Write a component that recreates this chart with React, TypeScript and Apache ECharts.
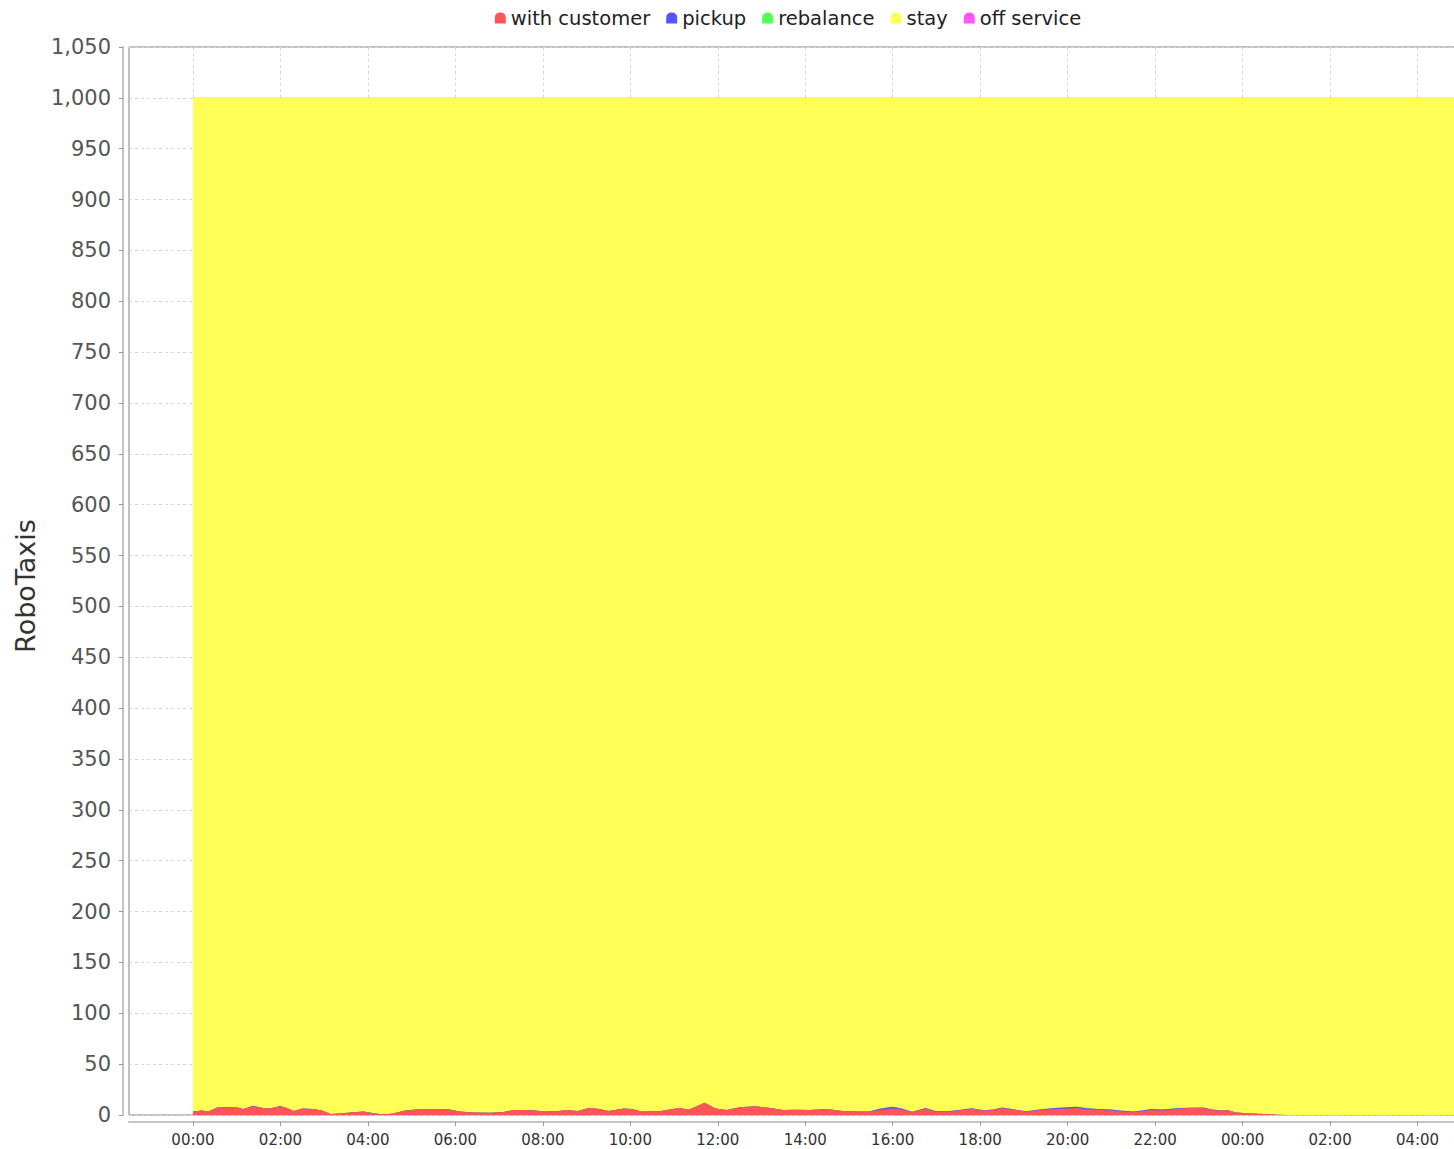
import React, { useEffect, useRef } from "react";
import * as echarts from "echarts";

// time of day in hours since simulation start (00:00)
const hours = [
  0.0, 0.2, 0.35, 0.55, 0.8, 1.0, 1.15, 1.37, 1.6, 1.75, 2.0, 2.15, 2.3, 2.5, 2.75, 2.95,
  3.15, 3.35, 3.6, 3.9, 4.1, 4.3, 4.55, 4.85, 5.1, 5.5, 5.8, 6.1, 6.4, 6.8, 7.1, 7.35,
  7.7, 8.05, 8.35, 8.55, 8.8, 9.05, 9.3, 9.5, 9.85, 10.05, 10.25, 10.7, 11.1, 11.35, 11.7,
  11.95, 12.2, 12.5, 12.85, 13.2, 13.5, 13.8, 14.1, 14.5, 14.85, 15.2, 15.45, 15.7, 16.0,
  16.2, 16.45, 16.75, 17.0, 17.3, 17.6, 17.8, 18.1, 18.3, 18.5, 18.8, 19.05, 19.4, 19.7,
  19.9, 20.2, 20.45, 20.7, 21.0, 21.2, 21.5, 21.7, 21.9, 22.2, 22.5, 22.8, 23.1, 23.3,
  23.5, 23.65, 23.85, 24.2, 24.5, 24.8, 25.0, 30.0,
];

const withCustomer = [
  3.5, 4.5, 3.5, 7, 7.5, 7.5, 6, 8.5, 7, 6.5, 8.5, 7, 4, 6.5, 6, 4.5,
  1, 1.5, 2.5, 3.5, 2, 0.7, 1.3, 4.5, 5.5, 6, 6, 3.5, 2.5, 2.3, 3, 5,
  5, 3.5, 4, 5, 4, 7, 6, 4, 6.5, 6, 3.5, 4, 7, 5.5, 12,
  6.5, 5, 7.5, 8.5, 7, 5, 5.2, 4.8, 6, 4, 3.5, 3.2, 5, 6.5,
  5.5, 3, 6.5, 3.2, 3.5, 5, 6.2, 4.2, 5, 7, 5, 3.5, 5, 6,
  6.2, 7, 5.5, 5.2, 4.5, 3.8, 2.8, 3.8, 5, 4.5, 6, 6.8, 7, 5,
  4.5, 5, 2.5, 1.5, 1, 0.3, 0, 0,
];

const pickup = [
  0, 0, 0, 0.3, 0.3, 0, 0, 0.6, 0, 0, 0.3, 0, 0, 0, 0, 0,
  0, 0, 0, 0, 0, 0, 0, 0, 0, 0, 0, 0, 0, 0, 0, 0,
  0, 0, 0, 0, 0, 0, 0, 0, 0, 0, 0, 0, 0, 0, 0,
  0, 0, 0, 0, 0, 0, 0, 0, 0, 0, 0, 0.3, 1.2, 1.5,
  0.8, 0.3, 0.3, 0.6, 0.5, 0.3, 0.5, 0.5, 0.4, 0.3, 0.3, 0.3, 0.6, 1,
  1.2, 1, 1.2, 0.8, 0.8, 0.6, 0.6, 0.6, 1, 0.8, 0.6, 0.4, 0.3, 0.3,
  0.2, 0, 0, 0, 0, 0, 0, 0,
];

const rebalance = [
  0, 0, 0, 0, 0, 0, 0, 0, 0, 0, 0, 0, 0, 0, 0, 0,
  0, 0, 0, 0, 0, 0, 0, 0, 0, 0, 0, 0, 0, 0, 0, 0,
  0, 0, 0, 0, 0, 0, 0, 0, 0, 0, 0, 0, 0, 0, 0,
  0, 0, 0, 0, 0, 0, 0, 0, 0, 0, 0, 0, 0, 0,
  0, 0, 0, 0, 0, 0, 0, 0, 0, 0, 0, 0, 0, 0,
  0, 0, 0, 0, 0, 0, 0, 0, 0, 0, 0.3, 0.2, 0, 0,
  0, 0, 0, 0, 0, 0, 0, 0,
];

const FLEET_SIZE = 1000;

const seriesNames = ["with customer", "pickup", "rebalance", "stay", "off service"];
const seriesColors = ["#FF5555", "#5555FF", "#55FF55", "#FFFF55", "#FF55FF"];

const xTickHours = [0, 2, 4, 6, 8, 10, 12, 14, 16, 18, 20, 22, 24, 26, 28];

const legendIcon = "path://M0,10 L0,5 Q0,0 5,0 Q10,0 10,5 L10,10 Z";

export default function App() {
  const ref = useRef<HTMLDivElement>(null);

  useEffect(() => {
    if (!ref.current) return;
    const chart = echarts.init(ref.current, undefined, { renderer: "svg" });

    // stack manually: each layer's top = cumulative count, filled down to 0
    const stay = hours.map(
      (_, i) => FLEET_SIZE - withCustomer[i] - pickup[i] - rebalance[i]
    );
    const offService = hours.map(() => 0);
    const layers = [withCustomer, pickup, rebalance, stay, offService];
    const cumulative: number[][] = [];
    layers.forEach((arr, k) => {
      cumulative.push(arr.map((v, i) => v + (k > 0 ? cumulative[k - 1][i] : 0)));
    });

    const series = seriesNames.map((name, k) => ({
      name,
      type: "line",
      showSymbol: false,
      symbol: "none",
      z: 10 - k,
      data: hours.map((h, i) => [h, cumulative[k][i]]),
      lineStyle: { width: 0, color: seriesColors[k] },
      itemStyle: { color: seriesColors[k] },
      areaStyle: { color: seriesColors[k], opacity: 1, origin: "start" },
    }));

    chart.setOption({
      animation: false,
      backgroundColor: "#ffffff",
      textStyle: { fontFamily: "DejaVu Sans" },
      legend: {
        top: 3,
        left: "center",
        itemWidth: 11,
        itemHeight: 11,
        itemGap: 16,
        itemStyle: { borderWidth: 0 },
        icon: legendIcon,
        textStyle: { fontSize: 19.5, color: "#222", fontFamily: "DejaVu Sans" },
        data: seriesNames.map((n, k) => ({ name: n, itemStyle: { color: seriesColors[k] } })),
      },
      grid: {
        left: 129,
        top: 47,
        right: 71,
        bottom: 34,
        show: true,
        borderColor: "#808080",
        borderWidth: 1,
        backgroundColor: "#ffffff",
      },
      xAxis: {
        type: "value",
        min: -1.463,
        max: 30,
        offset: 7,
        axisLine: { show: true, onZero: false, lineStyle: { color: "#c4c4c4", width: 2 } },
        axisTick: { show: true, length: 4, customValues: xTickHours, lineStyle: { color: "#999" } },
        axisLabel: {
          customValues: xTickHours,
          fontSize: 15,
          color: "#333",
          margin: 10,
          fontFamily: "DejaVu Sans",
          formatter: (v: number) => String(v % 24).padStart(2, "0") + ":00",
        },
        splitLine: {
          show: true,
          lineStyle: { color: "#d6d6d6", type: [3, 3], width: 1 },
        },
      },
      yAxis: {
        type: "value",
        min: 0,
        max: 1050,
        interval: 50,
        offset: 6,
        name: "RoboTaxis",
        nameLocation: "middle",
        nameGap: 84,
        nameTextStyle: { fontSize: 27, color: "#333", fontFamily: "DejaVu Sans", padding: [0, 10, 0, 0] },
        axisLine: { show: true, onZero: false, lineStyle: { color: "#c4c4c4", width: 2 } },
        axisTick: { show: true, length: 4, lineStyle: { color: "#999" } },
        axisLabel: {
          fontSize: 21,
          color: "#555",
          margin: 12,
          fontFamily: "DejaVu Sans",
          formatter: (v: number) => v.toLocaleString("en-US"),
        },
        splitLine: {
          show: true,
          lineStyle: { color: "#d6d6d6", type: [3, 3], width: 1 },
        },
      },
      series,
    });

    return () => chart.dispose();
  }, []);

  return (
    <div
      style={{
        position: "fixed",
        left: 0,
        top: 0,
        width: "1454px",
        height: "1149px",
        overflow: "hidden",
        background: "#fff",
      }}
    >
      <div ref={ref} style={{ position: "absolute", left: 0, top: 0, width: "1576px", height: "1149px" }} />
    </div>
  );
}
